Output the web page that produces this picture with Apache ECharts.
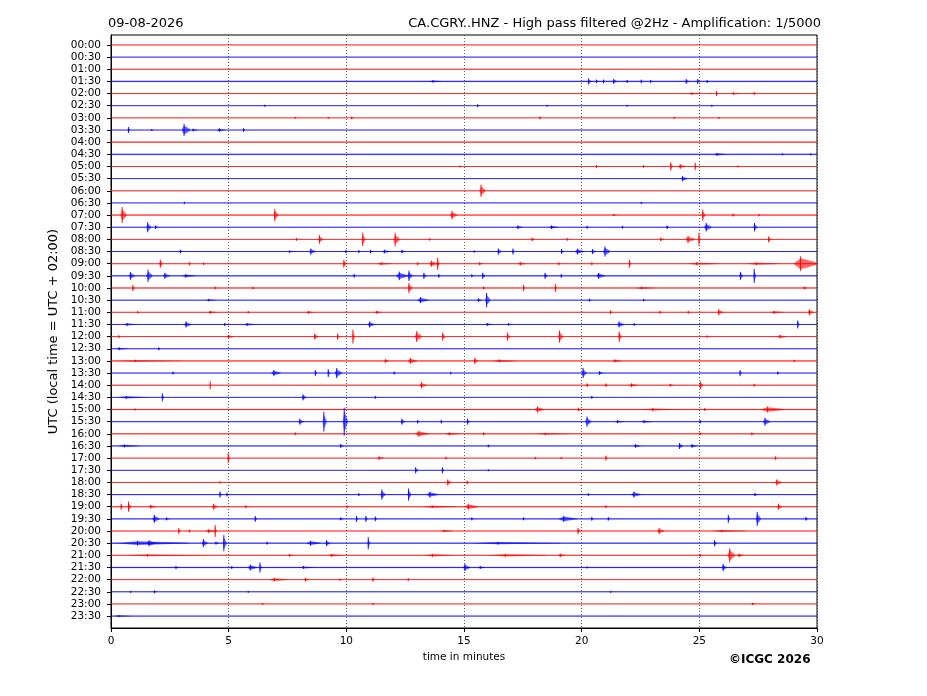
<!DOCTYPE html>
<html><head><meta charset="utf-8">
<script src="https://cdn.jsdelivr.net/npm/echarts@6/dist/echarts.min.js"></script>
<style>html,body{margin:0;padding:0;background:#fff}#c{width:927px;height:696px}</style>
</head><body><div id="c"></div>
<script>
// ---- data ----
const dateText = '09-08-2026';
const titleText = 'CA.CGRY..HNZ - High pass filtered @2Hz - Amplification: 1/5000';
const xTicks = [0, 5, 10, 15, 20, 25, 30];
const rowLabels = ['00:00','00:30','01:00','01:30','02:00','02:30','03:00','03:30','04:00','04:30','05:00','05:30',
  '06:00','06:30','07:00','07:30','08:00','08:30','09:00','09:30','10:00','10:30','11:00','11:30',
  '12:00','12:30','13:00','13:30','14:00','14:30','15:00','15:30','16:00','16:30','17:00','17:30',
  '18:00','18:30','19:00','19:30','20:00','20:30','21:00','21:30','22:00','22:30','23:00','23:30'];
// background noise half-amplitude per trace (in trace-spacing units)
const noiseLevel = [0.03,0.03,0.04,0.07,0.03,0.03,0.03,0.03,0.07,0.07,0.03,0.03,
  0.03,0.03,0.06,0.04,0.03,0.04,0.04,0.06,0.07,0.04,0.04,0.04,
  0.04,0.05,0.06,0.04,0.04,0.04,0.06,0.04,0.06,0.05,0.04,0.03,
  0.04,0.05,0.05,0.05,0.04,0.06,0.04,0.06,0.04,0.04,0.03,0.05];
// events per trace: [minute, half-amplitude (trace units), duration (minutes)]
const traceEvents = [
  [],
  [],
  [],
  [[13.5,0.1,0.6],[20.25,0.25,0.15],[20.6,0.15,0.1],[20.9,0.15,0.1],[21.3,0.2,0.2],[21.9,0.12,0.1],[22.5,0.15,0.1],[22.9,0.12,0.1],[24.4,0.2,0.15],[24.9,0.2,0.1],[25.3,0.12,0.1]],
  [[24.5,0.1,0.6],[25.7,0.2,0.1],[26.3,0.1,0.5],[27.3,0.12,0.1]],
  [[6.5,0.08,0.1],[15.55,0.12,0.1],[18.5,0.08,0.1],[21.9,0.08,0.1],[25.5,0.08,0.1]],
  [[7.8,0.08,0.1],[9.2,0.08,0.1],[10.2,0.12,0.1],[18.2,0.12,0.1],[23.9,0.08,0.1],[25.8,0.08,0.1]],
  [[0.71,0.25,0.1],[1.7,0.08,0.1],[3.0,0.5,0.35],[3.4,0.12,0.3],[4.5,0.15,0.35],[5.6,0.15,0.1]],
  [],
  [[25.6,0.12,0.5],[28.5,0.08,0.1],[29.7,0.08,0.1]],
  [[14.8,0.08,0.1],[20.6,0.12,0.1],[22.6,0.1,0.1],[23.75,0.35,0.12],[24.1,0.2,0.3],[24.8,0.3,0.08],[26.6,0.08,0.1]],
  [[24.2,0.22,0.3]],
  [[15.65,0.5,0.25]],
  [[3.1,0.1,0.05],[22.5,0.08,0.1]],
  [[0.4,0.66,0.25],[6.9,0.5,0.2],[14.4,0.35,0.3],[21.3,0.08,0.2],[25.1,0.45,0.15],[26.4,0.12,0.1],[27.5,0.1,0.1]],
  [[1.5,0.42,0.2],[1.85,0.15,0.15],[17.2,0.15,0.3],[18.6,0.15,0.4],[20.2,0.12,0.1],[21.7,0.12,0.1],[23.6,0.15,0.1],[25.2,0.35,0.3],[27.3,0.35,0.15]],
  [[7.85,0.12,0.1],[8.8,0.35,0.2],[10.65,0.55,0.15],[12.0,0.55,0.25],[13.5,0.1,0.1],[17.85,0.15,0.15],[19.35,0.12,0.1],[23.3,0.15,0.2],[24.4,0.3,0.4],[24.95,0.5,0.1],[27.9,0.25,0.15]],
  [[2.9,0.15,0.15],[7.5,0.1,0.3],[8.4,0.25,0.3],[9.95,0.15,0.1],[10.5,0.12,0.1],[11.0,0.15,0.1],[11.5,0.15,0.4],[12.3,0.15,0.2],[15.4,0.1,0.1],[16.4,0.25,0.2],[17.05,0.25,0.1],[19.1,0.2,0.15],[19.7,0.25,0.4],[20.4,0.2,0.2],[20.9,0.42,0.3]],
  [[2.05,0.33,0.15],[3.3,0.15,0.1],[3.9,0.1,0.1],[9.85,0.33,0.15],[11.3,0.12,0.6],[13.0,0.12,0.1],[13.5,0.25,0.4],[13.85,0.5,0.1],[15.6,0.12,0.2],[17.3,0.15,0.3],[19.0,0.12,0.1],[20.4,0.12,0.1],[22.0,0.33,0.1],[24.5,0.12,1.3],[27.0,0.12,1.4],[29.0,0.6,1.0]],
  [[0.75,0.33,0.25],[1.5,0.5,0.25],[2.2,0.25,0.3],[3.0,0.15,0.6],[10.3,0.15,0.1],[12.1,0.35,0.5],[12.6,0.42,0.2],[13.25,0.25,0.15],[13.9,0.15,0.1],[15.3,0.12,0.1],[15.75,0.25,0.15],[18.4,0.25,0.15],[19.1,0.15,0.1],[20.6,0.25,0.4],[26.7,0.33,0.15],[27.3,0.58,0.1]],
  [[0.9,0.25,0.1],[4.4,0.12,0.1],[6.0,0.1,0.1],[12.6,0.42,0.2],[15.8,0.12,0.1],[17.5,0.25,0.1],[18.85,0.33,0.1],[22.3,0.12,0.8],[29.4,0.12,0.2]],
  [[4.0,0.1,0.5],[13.0,0.25,0.5],[15.55,0.15,0.2],[15.9,0.6,0.2],[20.3,0.12,0.1],[22.6,0.1,0.1]],
  [[1.1,0.1,0.1],[4.1,0.12,0.4],[5.8,0.1,0.1],[8.3,0.12,0.3],[11.2,0.12,0.3],[21.2,0.15,0.1],[23.3,0.12,0.1],[24.5,0.12,0.1],[25.75,0.25,0.25],[28.0,0.12,0.6],[29.6,0.25,0.25]],
  [[0.5,0.12,0.6],[3.1,0.25,0.3],[4.8,0.12,0.1],[5.6,0.12,0.6],[10.9,0.25,0.3],[15.9,0.12,0.3],[16.8,0.1,0.3],[21.5,0.25,0.3],[22.2,0.12,0.1],[29.15,0.33,0.1]],
  [[0.3,0.12,0.1],[4.9,0.15,0.3],[8.6,0.25,0.2],[9.6,0.25,0.1],[10.25,0.58,0.1],[12.9,0.45,0.3],[14.05,0.33,0.15],[16.8,0.33,0.15],[19.0,0.5,0.2],[21.55,0.42,0.15],[25.3,0.1,0.1],[28.3,0.15,0.4]],
  [[0.2,0.12,0.5],[2.0,0.12,0.1]],
  [[0.2,0.1,2.8],[11.6,0.15,0.2],[12.6,0.25,0.4],[15.4,0.25,0.2],[16.2,0.12,1.0],[21.3,0.12,0.4],[29.0,0.1,0.1]],
  [[2.6,0.12,0.1],[6.8,0.25,0.4],[8.65,0.25,0.1],[9.2,0.33,0.1],[9.5,0.42,0.3],[12.0,0.12,0.1],[14.4,0.1,0.1],[20.0,0.42,0.2],[20.7,0.15,0.2],[26.7,0.25,0.1],[28.3,0.12,0.1]],
  [[4.2,0.33,0.05],[13.1,0.25,0.3],[20.2,0.15,0.1],[21.0,0.15,0.1],[22.0,0.15,0.4],[23.7,0.12,0.2],[25.0,0.33,0.15],[27.3,0.12,0.1]],
  [[0.2,0.12,1.5],[2.15,0.33,0.1],[8.1,0.25,0.2],[11.2,0.12,0.1],[20.4,0.12,0.1]],
  [[1.0,0.08,0.1],[18.0,0.25,0.4],[19.8,0.15,0.2],[22.6,0.12,1.4],[25.2,0.12,0.1],[27.6,0.25,1.0]],
  [[7.95,0.25,0.25],[9.0,0.82,0.15],[9.85,1.15,0.2],[12.3,0.25,0.2],[13.0,0.15,0.1],[14.0,0.15,0.1],[15.1,0.25,0.15],[20.15,0.42,0.25],[21.4,0.12,0.4],[22.5,0.12,0.5],[25.0,0.15,0.1],[27.7,0.33,0.3]],
  [[7.8,0.12,0.1],[12.9,0.25,0.6],[14.2,0.12,0.6],[15.8,0.12,0.1],[18.0,0.1,1.5],[25.0,0.12,0.1],[27.2,0.12,0.1]],
  [[0.3,0.12,0.9],[9.7,0.15,0.2],[16.0,0.12,0.1],[22.2,0.15,0.3],[24.1,0.25,0.2],[24.6,0.15,0.3]],
  [[4.95,0.42,0.1],[11.3,0.15,0.3],[14.2,0.12,0.1],[18.0,0.1,0.1],[19.1,0.1,0.1],[21.0,0.2,0.1],[28.2,0.15,0.1]],
  [[12.9,0.25,0.15],[14.05,0.25,0.1],[16.0,0.08,0.1]],
  [[4.6,0.1,0.1],[14.25,0.25,0.2],[15.1,0.15,0.1],[28.2,0.25,0.3]],
  [[4.6,0.25,0.1],[4.9,0.15,0.1],[10.5,0.12,0.1],[11.45,0.42,0.2],[12.6,0.5,0.15],[13.4,0.25,0.5],[20.25,0.12,0.1],[22.1,0.25,0.4],[27.3,0.12,0.2]],
  [[0.4,0.25,0.1],[0.7,0.42,0.15],[1.6,0.15,0.3],[4.3,0.25,0.2],[5.7,0.12,0.1],[10.0,0.12,0.1],[13.2,0.12,1.5],[15.0,0.25,0.6],[21.0,0.12,0.1],[28.3,0.25,0.2]],
  [[1.75,0.33,0.3],[2.3,0.12,0.2],[6.1,0.25,0.1],[9.7,0.12,0.2],[10.4,0.25,0.1],[10.8,0.25,0.1],[11.2,0.2,0.1],[15.3,0.12,0.1],[17.5,0.12,0.1],[19.0,0.25,0.8],[20.4,0.15,0.1],[21.1,0.15,0.1],[26.2,0.33,0.1],[27.4,0.58,0.2],[29.5,0.15,0.1]],
  [[2.85,0.25,0.1],[3.3,0.12,0.1],[4.0,0.15,0.5],[4.4,0.5,0.08],[14.0,0.1,0.5],[19.8,0.25,0.15],[23.2,0.25,0.3],[25.5,0.1,1.5]],
  [[0.2,0.2,3.1],[1.5,0.25,0.4],[3.85,0.33,0.25],[4.4,0.12,0.2],[4.75,0.66,0.15],[6.6,0.12,0.1],[8.3,0.2,0.6],[9.1,0.25,0.2],[10.9,0.5,0.1],[15.3,0.12,3.8],[25.6,0.25,0.15]],
  [[0.5,0.1,3.5],[7.5,0.1,0.3],[9.2,0.12,0.6],[13.3,0.12,1.2],[16.0,0.12,2.5],[19.0,0.15,0.3],[25.0,0.12,0.1],[26.2,0.58,0.3],[26.6,0.15,0.3]],
  [[2.7,0.12,0.2],[5.1,0.12,0.1],[5.8,0.25,0.4],[6.3,0.42,0.1],[8.0,0.12,0.6],[14.95,0.3,0.3],[15.6,0.12,0.3],[20.2,0.08,0.1],[25.95,0.3,0.2]],
  [[6.7,0.15,0.8],[8.2,0.15,0.2],[9.7,0.1,0.1],[11.1,0.17,0.1],[12.6,0.12,0.1]],
  [[0.8,0.08,0.1],[1.8,0.12,0.15],[5.8,0.08,0.1],[21.2,0.08,0.1]],
  [[6.4,0.08,0.1],[11.1,0.08,0.1],[27.2,0.1,0.2]],
  [[0.1,0.08,0.8]]
];
const traceColors = ['#ff0000', '#0000ff'];

// ---- build ----
const X_MIN = xTicks[0], X_MAX = xTicks[xTicks.length - 1];
const baseData = rowLabels.map((l, i) => [i, noiseLevel[i]]);
const evData = [];
traceEvents.forEach((list, row) => list.forEach(e => evData.push([e[0], row, e[1], e[2]])));
const font = 'DejaVu Sans';

function renderBase(params, api) {
  const row = api.value(0), nz = api.value(1);
  const c = traceColors[row % 2];
  const a = api.coord([X_MIN, row]), b = api.coord([X_MAX, row]);
  const top = api.coord([X_MIN, row - nz]), bot = api.coord([X_MIN, row + nz]);
  return {
    type: 'group',
    children: [
      { type: 'rect', shape: { x: a[0], y: Math.min(top[1], bot[1]), width: b[0] - a[0], height: Math.abs(bot[1] - top[1]) },
        style: { fill: c, opacity: 0.3 } },
      { type: 'line', shape: { x1: a[0], y1: a[1], x2: b[0], y2: b[1] }, style: { stroke: c, lineWidth: 1, opacity: 0.8 } }
    ]
  };
}
function renderEvent(params, api) {
  const t = api.value(0), row = api.value(1), amp = api.value(2), dur = api.value(3);
  const c = traceColors[row % 2];
  const tp = t + dur * 0.3;
  const pts = [
    api.coord([t, row]),
    api.coord([tp, row - amp * 0.75]),
    api.coord([t + dur, row - amp * 0.15]),
    api.coord([t + dur + 0.02, row]),
    api.coord([t + dur, row + amp * 0.15]),
    api.coord([tp, row + amp * 0.75])
  ];
  const s1 = api.coord([tp, row - amp]), s2 = api.coord([tp, row + amp]);
  return {
    type: 'group',
    children: [
      { type: 'polygon', shape: { points: pts }, style: { fill: c, opacity: 0.6 } },
      { type: 'line', shape: { x1: s1[0], y1: s1[1], x2: s2[0], y2: s2[1] }, style: { stroke: c, lineWidth: 1, opacity: 0.9 } }
    ]
  };
}

const chart = echarts.init(document.getElementById('c'), null, { renderer: 'canvas' });
chart.setOption({
  backgroundColor: '#fff',
  animation: false,
  title: [
    { text: dateText, left: 103, top: 12, textStyle: { fontFamily: font, fontSize: 13, fontWeight: 'normal', color: '#000' } },
    { text: titleText, right: 101, top: 12, textStyle: { fontFamily: font, fontSize: 13, fontWeight: 'normal', color: '#000' } },
    { text: '©ICGC 2026', left: 724, top: 649, textStyle: { fontFamily: font, fontSize: 12, fontWeight: 'bold', color: '#000' } }
  ],
  grid: { left: 111, right: 110, top: 35, bottom: 68, show: true, borderColor: '#000', borderWidth: 1, backgroundColor: 'transparent' },
  xAxis: {
    type: 'value', min: X_MIN, max: X_MAX, interval: 5,
    name: 'time in minutes', nameLocation: 'middle', nameGap: 24,
    nameTextStyle: { fontFamily: font, fontSize: 10.5, color: '#000' },
    axisLine: { show: true, onZero: false, lineStyle: { color: '#000', width: 1 } },
    axisTick: { show: true, length: 4, lineStyle: { color: '#000' } },
    axisLabel: { fontFamily: font, fontSize: 10.5, color: '#000', margin: 8 },
    splitLine: { show: true, lineStyle: { color: '#333', type: [1, 2], width: 0.8 } }
  },
  yAxis: {
    type: 'value', inverse: true, min: -0.82, max: 47.98,
    name: 'UTC (local time = UTC + 02:00)', nameLocation: 'middle', nameGap: 45, nameRotate: 90,
    nameTextStyle: { fontFamily: font, fontSize: 13, color: '#000' },
    axisLine: { show: true, onZero: false, lineStyle: { color: '#000', width: 1 } },
    axisTick: { show: true, length: 4, lineStyle: { color: '#000' }, customValues: rowLabels.map((l, i) => i) },
    axisLabel: { fontFamily: font, fontSize: 10.5, color: '#000', margin: 10,
      customValues: rowLabels.map((l, i) => i), formatter: v => rowLabels[Math.round(v)] || '' },
    splitLine: { show: false }
  },
  series: [
    { type: 'custom', renderItem: renderBase, data: baseData, encode: { x: -1, y: 0 }, clip: true, silent: true, z: 2 },
    { type: 'custom', renderItem: renderEvent, data: evData, encode: { x: 0, y: 1 }, clip: true, silent: true, z: 3 }
  ]
});
</script>
</body></html>
